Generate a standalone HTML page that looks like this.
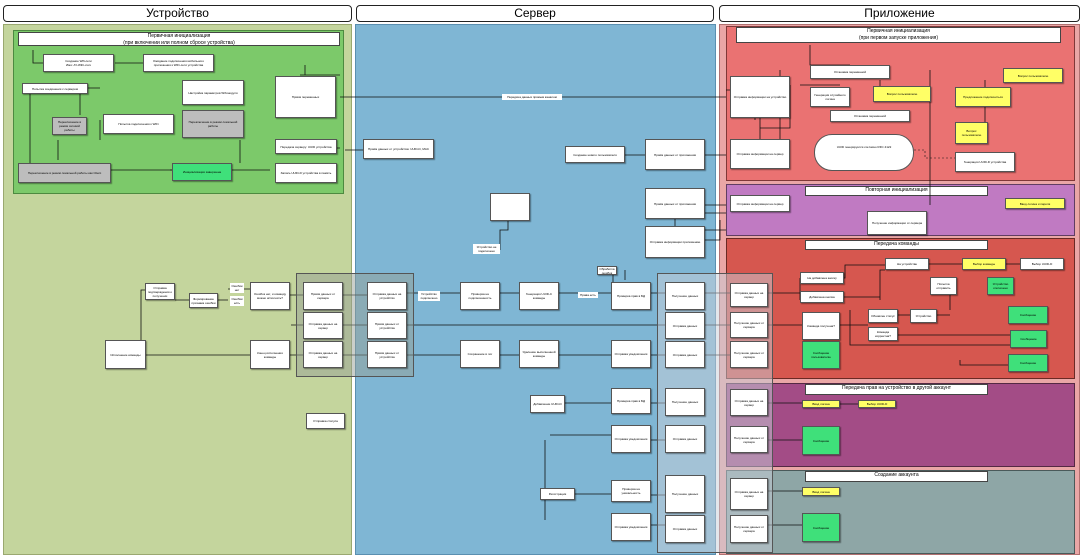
<!DOCTYPE html>
<html><head><meta charset="utf-8">
<style>
body{margin:0;width:1084px;height:555px;position:relative;overflow:hidden;background:#fff;font-family:"Liberation Sans",sans-serif}
div{box-sizing:border-box}
.a{position:absolute}
.h{position:absolute;top:5px;height:17px;border:1px solid #222;border-radius:4px;background:#fff;font-size:12px;text-align:center;line-height:15px}
.b{position:absolute;background:#fff;border:1px solid #555;font-size:3px;line-height:4px;text-align:center;display:flex;align-items:center;justify-content:center;box-shadow:1px 1px 1px rgba(0,0,0,.4);padding:1px}
.g{background:#bdbdbd}.y{background:#ffff66}.gr{background:#3fe07a}
.t{position:absolute;background:#fff;border:1px solid #444;font-size:5px;text-align:center;line-height:7px}
.l{position:absolute;background:#fff;font-size:3px;line-height:4px;text-align:center;padding:1px}
</style></head><body>
<div class="h" style="left:3px;width:349px">Устройство</div>
<div class="h" style="left:356px;width:358px">Сервер</div>
<div class="h" style="left:719px;width:361px">Приложение</div>

<div class="a" style="left:3px;top:24px;width:349px;height:531px;background:#c4d59d;border:1px solid #9aa870"></div>
<div class="a" style="left:355px;top:24px;width:361px;height:531px;background:#7fb6d4;border:1px solid #5a8fb0"></div>
<div class="a" style="left:719px;top:24px;width:361px;height:531px;background:#eaa6a6;border:1px solid #b07070"></div>

<div class="a" style="left:13px;top:30px;width:331px;height:164px;background:#7cc96a;border:1px solid #4d8a40"></div>
<div class="a" style="left:726px;top:26px;width:349px;height:155px;background:#ea7272;border:1px solid #803838"></div>
<div class="a" style="left:726px;top:184px;width:349px;height:52px;background:#c07ac2;border:1px solid #603d62"></div>
<div class="a" style="left:726px;top:238px;width:349px;height:141px;background:#d6574f;border:1px solid #6a2a25"></div>
<div class="a" style="left:726px;top:383px;width:349px;height:84px;background:#a34c86;border:1px solid #552844"></div>
<div class="a" style="left:726px;top:470px;width:349px;height:84px;background:#8ea6a6;border:1px solid #4a5a5a"></div>

<div class="t" style="left:18px;top:32px;width:322px;height:14px">Первичная инициализация<br>(при включении или полном сбросе устройства)</div>
<div class="t" style="left:736px;top:27px;width:325px;height:16px">Первичная инициализация<br>(при первом запуске приложения)</div>
<div class="t" style="left:805px;top:186px;width:183px;height:10px">Повторная инициализация</div>
<div class="t" style="left:805px;top:240px;width:183px;height:10px">Передача команды</div>
<div class="t" style="left:805px;top:384px;width:183px;height:11px">Передача прав на устройство в другой аккаунт</div>
<div class="t" style="left:805px;top:471px;width:183px;height:11px">Создание аккаунта</div>

<svg class="a" style="left:0;top:0" width="1084" height="555">
<g stroke="#111" stroke-width="0.8" fill="none">
<path d="M33 50V63H43M115 63H143M305 65V75M300 75H340"/>
<path d="M87 88H100M30 88V170M80 88V115M58 140V160M280 140V148H340M100 140V120M200 170H270M110 170H200"/>
<path d="M726 97H340M170 170H200M240 140V163M345 150H363"/>
<path d="M810 45V65H850M780 70V150M760 110V140M905 140V150M930 70V205M840 85H800M755 120V90H726"/>
<path d="M790 110V128H760M790 110V85M880 80V100M985 80V140"/>
<path d="M726 155H705M645 155H625M726 205H705M675 219V226M705 240H720V220"/>
<path d="M726 213H705M726 230H705"/>
<path d="M500 250V230H508V220M488 250H500"/>
<path d="M407 293H460M500 293H519M559 293H611M651 293H665M165 289H175M218 300H228M228 289H250M290 295H305M343 295H367M407 325H665M343 325H367M291 325H305M141 325V300M141 340V290H145M146 355H250M290 355H305M343 355H367M407 355H460M500 355H519M559 355H611M651 355H665"/>
<path d="M175 300H189M613 282V270M625 270V280M600 270H613"/>
<path d="M705 293H730M705 325H730M705 355H730M768 293H800M800 278V300M768 325H802M840 325H868M898 315H910M937 315H950M950 310V285H930M880 300V270H885M929 264H962M1006 264H1020M840 278H845V265H885M850 310V345H1010M880 335H1010M960 360V365H1008M844 297H880V285"/>
<path d="M768 403H802M768 440H802M840 404H858M768 525H802M768 491H802M665 403H651M665 440H651M665 495H651M665 525H651M611 403H565M611 435H550M545 440V520M575 494H611M545 494H540"/>
</g>
<g stroke="#111" stroke-width="0.6" fill="none" stroke-dasharray="2,2"><path d="M914 150H925V158H955"/></g>
</svg>
<div class="l" style="left:502px;top:94px;width:60px">Передача данных прямым каналом</div>
<div class="l" style="left:473px;top:244px;width:27px">Устройство не подключено</div>
<div class="l" style="left:418px;top:291px;width:22px">Устройство подключено</div>
<div class="l" style="left:578px;top:292px;width:20px">Права есть</div>
<div class="l" style="left:230px;top:283px;width:14px">Ошибок нет</div>
<div class="l" style="left:230px;top:296px;width:14px">Ошибки есть</div>

<!-- device boxes -->
<div class="b" style="left:43px;top:54px;width:71px;height:18px">Создание Wifi-сети<br>Имя: AY-WiFi-xxxx</div>
<div class="b" style="left:143px;top:54px;width:71px;height:18px">Ожидание подключения мобильного приложения к WiFi-сети устройства</div>
<div class="b" style="left:22px;top:83px;width:66px;height:11px">Попытка соединения с сервером</div>
<div class="b" style="left:182px;top:80px;width:62px;height:25px">Настройка параметров Wifi-модуля</div>
<div class="b" style="left:275px;top:76px;width:61px;height:42px">Приём переменных</div>
<div class="b" style="left:103px;top:114px;width:71px;height:20px">Попытка подключения к WiFi</div>
<div class="b g" style="left:52px;top:117px;width:35px;height:18px">Переключение в режим сетевой работы</div>
<div class="b g" style="left:182px;top:110px;width:62px;height:28px">Переключение в режим локальной работы</div>
<div class="b" style="left:275px;top:139px;width:62px;height:15px">Передача серверу: UUID устройства</div>
<div class="b g" style="left:18px;top:163px;width:93px;height:20px">Переключение в режим локальной работы как Client</div>
<div class="b gr" style="left:172px;top:163px;width:60px;height:18px">Инициализация завершена</div>
<div class="b" style="left:275px;top:163px;width:62px;height:20px">Запись UUID-D устройства в память</div>
<div class="b" style="left:105px;top:340px;width:41px;height:29px">Исполнение команды</div>
<div class="b" style="left:250px;top:340px;width:40px;height:29px">Конец исполнения команды</div>
<div class="b" style="left:250px;top:282px;width:40px;height:28px">Ошибок нет, и команду можно исполнить?</div>
<div class="b" style="left:145px;top:283px;width:30px;height:17px">Отправка подтверждения о получении</div>
<div class="b" style="left:189px;top:293px;width:29px;height:15px">Формирование признака ошибки</div>
<div class="b" style="left:306px;top:413px;width:39px;height:16px">Отправка статуса</div>

<!-- authorized overlays -->
<div class="a" style="left:296px;top:273px;width:118px;height:104px;background:rgba(150,160,150,.5);border:1px solid #555"></div>
<div class="a" style="left:657px;top:273px;width:116px;height:280px;background:rgba(200,205,215,.5);border:1px solid #555"></div>

<div class="b" style="left:303px;top:282px;width:40px;height:28px">Приём данных от сервера</div>
<div class="b" style="left:303px;top:312px;width:40px;height:27px">Отправка данных на сервер</div>
<div class="b" style="left:303px;top:341px;width:40px;height:27px">Отправка данных на сервер</div>
<div class="b" style="left:367px;top:282px;width:40px;height:28px">Отправка данных на устройство</div>
<div class="b" style="left:367px;top:312px;width:40px;height:27px">Приём данных от устройства</div>
<div class="b" style="left:367px;top:341px;width:40px;height:27px">Приём данных от устройства</div>
<div class="b" style="left:460px;top:282px;width:40px;height:28px">Проверка на подключенность</div>
<div class="b" style="left:519px;top:282px;width:40px;height:28px">Генерация UUID-C команды</div>
<div class="b" style="left:611px;top:282px;width:40px;height:28px">Проверка прав в БД</div>
<div class="b" style="left:460px;top:340px;width:40px;height:28px">Сохранение в лог</div>
<div class="b" style="left:519px;top:340px;width:40px;height:28px">Удаление выполненной команды</div>
<div class="b" style="left:611px;top:340px;width:40px;height:28px">Отправка уведомления</div>
<div class="b" style="left:490px;top:193px;width:40px;height:28px"></div>
<div class="b" style="left:363px;top:139px;width:71px;height:20px">Приём данных от устройства: UUID-D, MAC</div>
<div class="b" style="left:565px;top:146px;width:60px;height:17px">Создание нового пользователя</div>
<div class="b" style="left:645px;top:139px;width:60px;height:31px">Приём данных от приложения</div>
<div class="b" style="left:645px;top:188px;width:60px;height:31px">Приём данных от приложения</div>
<div class="b" style="left:645px;top:226px;width:60px;height:32px">Отправка информации приложению</div>
<div class="b" style="left:597px;top:266px;width:20px;height:9px">Обработка ошибок</div>
<div class="b" style="left:665px;top:282px;width:40px;height:28px">Получение данных</div>
<div class="b" style="left:665px;top:312px;width:40px;height:27px">Отправка данных</div>
<div class="b" style="left:665px;top:341px;width:40px;height:27px">Отправка данных</div>
<div class="b" style="left:665px;top:388px;width:40px;height:28px">Получение данных</div>
<div class="b" style="left:665px;top:425px;width:40px;height:28px">Отправка данных</div>
<div class="b" style="left:665px;top:475px;width:40px;height:38px">Получение данных</div>
<div class="b" style="left:665px;top:515px;width:40px;height:28px">Отправка данных</div>
<div class="b" style="left:611px;top:388px;width:40px;height:26px">Проверка прав в БД</div>
<div class="b" style="left:611px;top:425px;width:40px;height:28px">Отправка уведомления</div>
<div class="b" style="left:611px;top:480px;width:40px;height:22px">Проверка на уникальность</div>
<div class="b" style="left:611px;top:513px;width:40px;height:28px">Отправка уведомления</div>
<div class="b" style="left:530px;top:395px;width:35px;height:18px">Добавление UUID-D</div>
<div class="b" style="left:540px;top:488px;width:35px;height:12px">Регистрация</div>

<!-- app boxes -->
<div class="b" style="left:730px;top:76px;width:60px;height:42px">Отправка информации на устройство</div>
<div class="b" style="left:730px;top:139px;width:60px;height:30px">Отправка информации на сервер</div>
<div class="b" style="left:810px;top:65px;width:80px;height:14px">Установка переменной</div>
<div class="b" style="left:810px;top:87px;width:40px;height:20px">Генерация случайного логина</div>
<div class="b" style="left:830px;top:110px;width:80px;height:12px">Установка переменной</div>
<div class="b y" style="left:873px;top:86px;width:58px;height:16px">Вопрос пользователю</div>
<div class="b y" style="left:1003px;top:68px;width:60px;height:15px">Вопрос пользователю</div>
<div class="b y" style="left:955px;top:87px;width:56px;height:20px">Предложение подключиться</div>
<div class="b y" style="left:955px;top:122px;width:33px;height:22px">Вопрос пользователю</div>
<div class="a" style="left:814px;top:134px;width:100px;height:37px;background:#fff;border:1px solid #555;border-radius:18px;font-size:3px;text-align:center;padding-top:10px">UUID генерируется согласно RFC 4122</div>
<div class="b" style="left:955px;top:152px;width:60px;height:20px">Генерация UUID-D устройства</div>
<div class="b y" style="left:1005px;top:198px;width:60px;height:11px">Ввод логина и пароля</div>
<div class="b" style="left:730px;top:195px;width:60px;height:17px">Отправка информации на сервер</div>
<div class="b" style="left:867px;top:211px;width:60px;height:24px">Получение информации от сервера</div>

<div class="b" style="left:800px;top:272px;width:44px;height:12px">На добавлена кнопку</div>
<div class="b" style="left:800px;top:291px;width:44px;height:12px">Добавлена кнопка</div>
<div class="b" style="left:885px;top:258px;width:44px;height:12px">На устройстве</div>
<div class="b y" style="left:962px;top:258px;width:44px;height:12px">Выбор команды</div>
<div class="b" style="left:1020px;top:258px;width:44px;height:12px">Выбор UUID-D</div>
<div class="b" style="left:802px;top:312px;width:38px;height:28px">Команда получена?</div>
<div class="b" style="left:868px;top:309px;width:30px;height:14px">Обновлен статус</div>
<div class="b" style="left:910px;top:309px;width:27px;height:14px">Устройство</div>
<div class="b" style="left:868px;top:327px;width:30px;height:14px">Команда корректна?</div>
<div class="b" style="left:930px;top:277px;width:27px;height:18px">Попытка отправить</div>
<div class="b gr" style="left:987px;top:277px;width:27px;height:18px">Устройство отключено</div>
<div class="b gr" style="left:1008px;top:306px;width:40px;height:18px">Сообщение</div>
<div class="b gr" style="left:1010px;top:330px;width:37px;height:18px">Сообщение</div>
<div class="b gr" style="left:1008px;top:354px;width:40px;height:18px">Сообщение</div>
<div class="b gr" style="left:802px;top:341px;width:38px;height:28px">Сообщение пользователю</div>

<div class="b y" style="left:802px;top:400px;width:38px;height:8px">Ввод логина</div>
<div class="b y" style="left:858px;top:400px;width:38px;height:8px">Выбор UUID-D</div>
<div class="b gr" style="left:802px;top:426px;width:38px;height:29px">Сообщение</div>
<div class="b y" style="left:802px;top:487px;width:38px;height:9px">Ввод логина</div>
<div class="b gr" style="left:802px;top:513px;width:38px;height:29px">Сообщение</div>
<div class="b" style="left:730px;top:389px;width:38px;height:27px">Отправка данных на сервер</div>
<div class="b" style="left:730px;top:426px;width:38px;height:27px">Получение данных от сервера</div>
<div class="b" style="left:730px;top:478px;width:38px;height:32px">Отправка данных на сервер</div>
<div class="b" style="left:730px;top:515px;width:38px;height:28px">Получение данных от сервера</div>
<div class="b" style="left:730px;top:283px;width:38px;height:24px">Отправка данных на сервер</div>
<div class="b" style="left:730px;top:312px;width:38px;height:26px">Получение данных от сервера</div>
<div class="b" style="left:730px;top:341px;width:38px;height:27px">Получение данных от сервера</div>
</body></html>
